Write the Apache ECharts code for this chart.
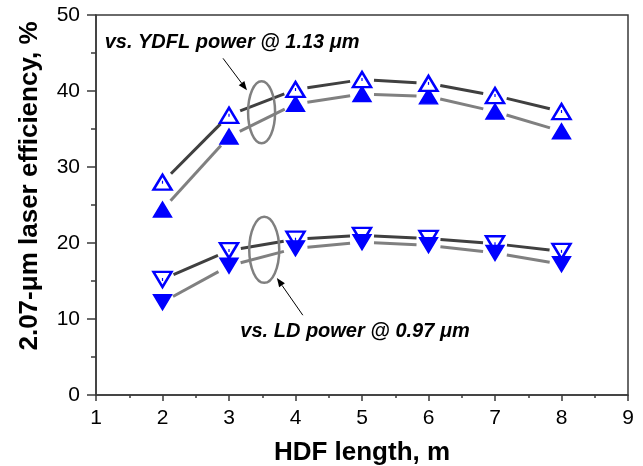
<!DOCTYPE html>
<html>
<head>
<meta charset="utf-8">
<script src="https://cdn.jsdelivr.net/npm/echarts@6/dist/echarts.min.js"></script>
<style>
  html, body { margin: 0; padding: 0; background: #fff; }
  #chart { width: 643px; height: 466px; }
</style>
</head>
<body>
<div id="chart"></div>
<script>
// HDF length, m
var fiberLength = [2, 3, 4, 5, 6, 7, 8];
// efficiency vs. YDFL power @ 1.13 um (open / filled up-triangles)
var ydflOpen   = [28.0, 36.8, 40.2, 41.5, 41.0, 39.4, 37.3];
var ydflFilled = [24.4, 34.0, 38.3, 39.6, 39.3, 37.3, 34.7];
// efficiency vs. LD power @ 0.97 um (open / filled down-triangles)
var ldOpen     = [15.2, 19.0, 20.5, 21.0, 20.6, 19.9, 18.9];
var ldFilled   = [12.2, 17.0, 19.3, 20.1, 19.7, 18.7, 17.2];

var xTicks = [1, 2, 3, 4, 5, 6, 7, 8, 9];
var yTicks = [0, 10, 20, 30, 40, 50];

var yTitle = '2.07-\u03bcm laser efficiency, %';
var xTitle = 'HDF length, m';

var FONT = '"Liberation Sans", Arial, sans-serif';
var AXIS_COLOR = '#3a3a3a';
var BLUE = '#0000ff';

function pairs(vals) {
  return fiberLength.map(function (x, i) { return [x, vals[i]]; });
}
function segments(vals) {
  var out = [];
  for (var i = 0; i < fiberLength.length - 1; i++) {
    out.push([fiberLength[i], vals[i], fiberLength[i + 1], vals[i + 1]]);
  }
  return out;
}

// connecting lines with a gap around every marker
function gappedLine(vals, color, z) {
  var GAP = 12;
  return {
    type: 'custom',
    data: segments(vals),
    z: z,
    silent: true,
    renderItem: function (params, api) {
      var a = api.coord([api.value(0), api.value(1)]);
      var b = api.coord([api.value(2), api.value(3)]);
      var dx = b[0] - a[0], dy = b[1] - a[1];
      var len = Math.sqrt(dx * dx + dy * dy);
      var ux = dx / len, uy = dy / len;
      return {
        type: 'line',
        shape: {
          x1: a[0] + ux * GAP, y1: a[1] + uy * GAP,
          x2: b[0] - ux * GAP, y2: b[1] - uy * GAP
        },
        style: { stroke: color, lineWidth: 3, lineCap: 'butt' }
      };
    }
  };
}

function markers(vals, filled, down, z) {
  return {
    type: 'scatter',
    data: pairs(vals),
    symbol: 'triangle',
    symbolSize: [18, 15],
    symbolRotate: down ? 180 : 0,
    z: z,
    itemStyle: filled
      ? { color: BLUE, borderColor: BLUE, borderWidth: 1.5, opacity: 1 }
      : { color: '#ffffff', borderColor: BLUE, borderWidth: 2.5, opacity: 1 }
  };
}

// the small centre dot inside each open marker
function centreDots(vals, z) {
  return {
    type: 'scatter',
    data: pairs(vals),
    symbol: 'rect',
    symbolSize: [1.2, 3],
    z: z,
    silent: true,
    itemStyle: { color: BLUE, opacity: 1 }
  };
}

var chart = echarts.init(document.getElementById('chart'), null, { renderer: 'canvas' });

var option = {
  animation: false,
  backgroundColor: '#ffffff',
  grid: {
    left: 96, right: 15, top: 15, bottom: 71,
    containLabel: false,
    outerBoundsMode: 'none',
    show: true, borderColor: AXIS_COLOR, borderWidth: 1.5, backgroundColor: 'transparent'
  },
  xAxis: {
    type: 'value',
    min: xTicks[0], max: xTicks[xTicks.length - 1], interval: 1,
    name: xTitle,
    nameLocation: 'middle',
    nameGap: 45,
    nameTextStyle: { fontFamily: FONT, fontWeight: 'bold', fontSize: 26, color: '#000' },
    axisLine: { lineStyle: { color: AXIS_COLOR, width: 1.5 } },
    axisTick: { show: true, inside: false, length: 6, lineStyle: { color: AXIS_COLOR, width: 1.5 } },
    minorTick: { show: true, splitNumber: 2, length: 3, lineStyle: { color: AXIS_COLOR, width: 1.5 } },
    splitLine: { show: false },
    axisLabel: { fontFamily: FONT, fontSize: 21, color: '#000', margin: 13 }
  },
  yAxis: {
    type: 'value',
    min: yTicks[0], max: yTicks[yTicks.length - 1], interval: 10,
    axisLine: { show: true, lineStyle: { color: AXIS_COLOR, width: 1.5 } },
    axisTick: { show: true, inside: false, length: 9, lineStyle: { color: AXIS_COLOR, width: 1.5 } },
    minorTick: { show: true, splitNumber: 2, length: 5, lineStyle: { color: AXIS_COLOR, width: 1.5 } },
    splitLine: { show: false },
    axisLabel: { fontFamily: FONT, fontSize: 21, color: '#000', margin: 16 }
  },
  graphic: [{
    type: 'text',
    x: 30, y: 186,
    rotation: Math.PI / 2,
    style: { text: yTitle, fill: '#000', font: 'bold 26px ' + FONT,
      textAlign: 'center', textVerticalAlign: 'middle' }
  }],
  series: [
    gappedLine(ydflOpen, '#404040', 2),
    gappedLine(ydflFilled, '#808080', 2),
    gappedLine(ldOpen, '#404040', 2),
    gappedLine(ldFilled, '#808080', 2),
    markers(ydflFilled, true, false, 3),
    markers(ydflOpen, false, false, 4),
    centreDots(ydflOpen, 5),
    markers(ldOpen, false, true, 3),
    centreDots(ldOpen, 3),
    markers(ldFilled, true, true, 4)
  ]
};
chart.setOption(option);

// annotations: group ellipses, arrows and captions anchored in data units
var notes = {
  ydflCaption: [1.13, 46.4],
  ldCaption: [3.17, 8.4],
  ydflEllipse: [3.49, 37.2],
  ldEllipse: [3.53, 19.1],
  ydflArrow: [[2.91, 44.3], [3.27, 40.1]],
  ldArrow: [[4.11, 10.5], [3.72, 15.4]]
};
function px(p) { return chart.convertToPixel({ gridIndex: 0 }, p); }
function arrow(from, to) {
  var a = px(from), b = px(to);
  var ang = Math.atan2(b[1] - a[1], b[0] - a[0]);
  var L = 9, W = 3.5;
  var bx = b[0] - Math.cos(ang) * L, by = b[1] - Math.sin(ang) * L;
  var nx = -Math.sin(ang) * W, ny = Math.cos(ang) * W;
  return [
    { type: 'line', shape: { x1: a[0], y1: a[1], x2: bx, y2: by },
      style: { stroke: '#000', lineWidth: 1 }, z: 10 },
    { type: 'polygon', shape: { points: [[b[0], b[1]], [bx + nx, by + ny], [bx - nx, by - ny]] },
      style: { fill: '#000' }, z: 10 }
  ];
}
function ellipse(c, rx, ry) {
  var p = px(c);
  return { type: 'ellipse', shape: { cx: p[0], cy: p[1], rx: rx, ry: ry },
    style: { fill: null, stroke: '#808080', lineWidth: 2.5 }, z: 10 };
}
function caption(c, text) {
  var p = px(c);
  return { type: 'text', x: p[0], y: p[1], z: 10,
    style: { text: text, fill: '#000', font: 'italic bold 20px ' + FONT,
      textAlign: 'left', textVerticalAlign: 'middle' } };
}
var elements = [option.graphic[0]]
  .concat(arrow(notes.ydflArrow[0], notes.ydflArrow[1]))
  .concat(arrow(notes.ldArrow[0], notes.ldArrow[1]))
  .concat([
    ellipse(notes.ydflEllipse, 13.5, 31),
    ellipse(notes.ldEllipse, 15, 33),
    caption(notes.ydflCaption, 'vs. YDFL power @ 1.13 \u03bcm'),
    caption(notes.ldCaption, 'vs. LD power @ 0.97 \u03bcm')
  ]);
chart.setOption({ graphic: elements }, { replaceMerge: ['graphic'] });
</script>
</body>
</html>
